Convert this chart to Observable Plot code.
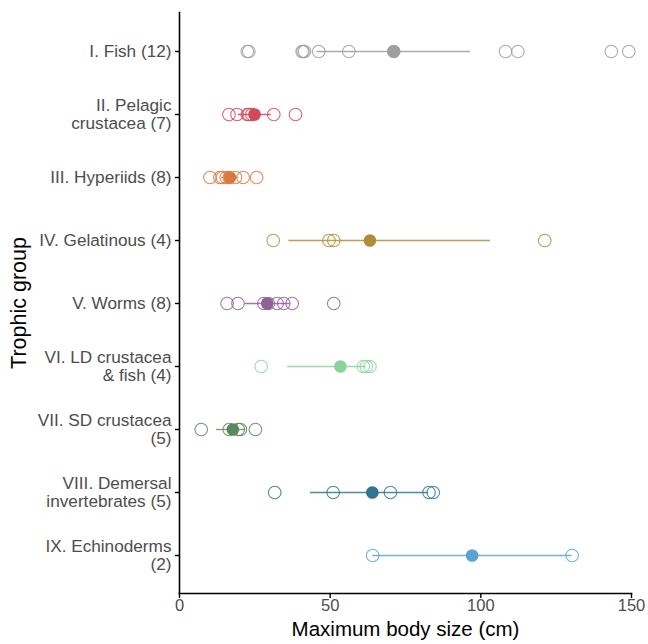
<!DOCTYPE html>
<html>
<head>
<meta charset="utf-8">
<script src="https://cdn.jsdelivr.net/npm/d3@7"></script>
<script src="https://cdn.jsdelivr.net/npm/@observablehq/plot@0.6"></script>
<style>
  html, body { margin: 0; padding: 0; background: #fff; }
  #chart svg { font-family: "Liberation Sans", Arial, sans-serif; }
</style>
</head>
<body>
<div id="chart"></div>
<script>
// Categories and tick labels
const groups = ["I", "II", "III", "IV", "V", "VI", "VII", "VIII", "IX"];
const groupLabels = [
  "I. Fish (12)",
  "II. Pelagic\ncrustacea (7)",
  "III. Hyperiids (8)",
  "IV. Gelatinous (4)",
  "V. Worms (8)",
  "VI. LD crustacea\n& fish (4)",
  "VII. SD crustacea\n(5)",
  "VIII. Demersal\ninvertebrates (5)",
  "IX. Echinoderms\n(2)"
];
const groupColors = ["#9e9e9e", "#d1495b", "#d9783f", "#b08d38", "#8f6395", "#8bd39b", "#5a8a5c", "#2f7590", "#5aa3d2"];

// Individual maximum body sizes (cm)
const fish = [22.5, 23.0, 40.7, 41.0, 41.5, 46.2, 56.2, 71.1, 108.2, 112.3, 143.3, 149.1];
const pelagicCrustacea = [16.4, 19.1, 22.5, 23.0, 24.0, 31.3, 38.5];
const hyperiids = [10.1, 13.4, 14.2, 15.5, 16.5, 18.6, 21.1, 25.6];
const gelatinous = [31.1, 49.6, 51.2, 121.2];
const worms = [15.8, 19.4, 28.0, 29.5, 32.4, 34.6, 37.4, 51.2];
const ldCrustaceaFish = [27.1, 61.0, 62.0, 63.2];
const sdCrustacea = [7.2, 16.5, 19.5, 20.2, 25.2];
const demersalInvertebrates = [31.6, 51.0, 70.0, 82.8, 84.2];
const echinoderms = [64.1, 130.3];

// Group means and interval ends
const means = [71.1, 24.9, 16.7, 63.2, 29.1, 53.4, 17.7, 64.0, 97.1];
const lower = [45.6, 19.5, 14.0, 36.3, 21.9, 35.9, 12.3, 43.5, 64.1];
const upper = [96.6, 30.5, 19.5, 103.2, 36.8, 62.0, 21.9, 82.7, 130.3];

const seriesList = [fish, pelagicCrustacea, hyperiids, gelatinous, worms, ldCrustaceaFish, sdCrustacea, demersalInvertebrates, echinoderms];
const points = seriesList.flatMap((vals, i) => vals.map(v => ({group: groups[i], size: v})));
const summary = groups.map((g, i) => ({group: g, mean: means[i], lo: lower[i], hi: upper[i]}));
const labelOf = new Map(groups.map((g, i) => [g, groupLabels[i]]));

const chart = Plot.plot({
  width: 648,
  height: 644,
  marginLeft: 179,
  marginRight: 17,
  marginTop: 12,
  marginBottom: 51,
  style: {fontFamily: "'Liberation Sans', Arial, sans-serif", background: "#fff"},
  x: {domain: [0, 150]},
  y: {type: "point", domain: groups, padding: 0.6},
  color: {domain: groups, range: groupColors},
  marks: [
    Plot.ruleY(summary, {y: "group", x1: "lo", x2: "hi", stroke: "group", strokeWidth: 1.3, strokeOpacity: 0.85}),
    Plot.dot(points, {x: "size", y: "group", stroke: "group", r: 6.3, strokeWidth: 1.1, fill: "none", strokeOpacity: 0.85}),
    Plot.dot(summary, {x: "mean", y: "group", fill: "group", r: 6.3, stroke: "none"}),
    Plot.frame({anchor: "left", stroke: "#000", strokeWidth: 1.6}),
    Plot.frame({anchor: "bottom", stroke: "#000", strokeWidth: 1.6}),
    Plot.axisX({
      ticks: [0, 50, 100, 150], tickSize: 5, tickPadding: 1, fontSize: 16.5, color: "#4d4d4d",
      stroke: "#000", strokeWidth: 1.4,
      label: null
    }),
    Plot.axisY({
      tickSize: 4, tickPadding: 4, fontSize: 17.2, color: "#4d4d4d", stroke: "#000", strokeWidth: 1.4,
      tickFormat: d => labelOf.get(d), label: null, lineHeight: 1.05
    }),
    Plot.text(["Maximum body size (cm)"], {
      frameAnchor: "bottom", dy: 42, fontSize: 20.5, fill: "#000", text: d => d
    }),
    Plot.text(["Trophic group"], {
      frameAnchor: "left", textAnchor: "middle", dx: -160, rotate: -90, fontSize: 21.5, fill: "#000", text: d => d
    })
  ]
});
document.getElementById("chart").appendChild(chart);
</script>
</body>
</html>
